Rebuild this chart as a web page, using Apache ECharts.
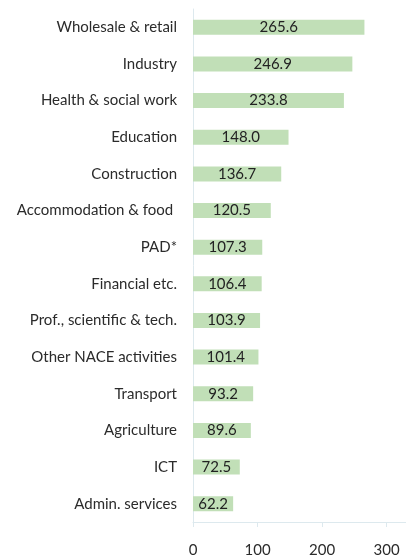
<!DOCTYPE html>
<html>
<head>
<meta charset="utf-8">
<script src="https://cdn.jsdelivr.net/npm/echarts@6/dist/echarts.min.js"></script>
<style>
  html, body { margin: 0; padding: 0; background: #ffffff; }
  #chart { width: 406px; height: 560px; }
</style>
</head>
<body>
<div id="chart"></div>
<script>
// Sectors, listed bottom to top as the category axis draws them
const sectors = [
  'Admin. services',
  'ICT',
  'Agriculture',
  'Transport',
  'Other NACE activities',
  'Prof., scientific & tech.',
  'Financial etc.',
  'PAD*',
  'Accommodation & food ',
  'Construction',
  'Education',
  'Health & social work',
  'Industry',
  'Wholesale & retail'
];
const values = [62.2, 72.5, 89.6, 93.2, 101.4, 103.9, 106.4, 107.3, 120.5, 136.7, 148.0, 233.8, 246.9, 265.6];
const xTicks = [0, 100, 200, 300];

const FONT = 'Lato, "Open Sans", sans-serif';
const chart = echarts.init(document.getElementById('chart'), null, { renderer: 'canvas' });

chart.setOption({
  animation: false,
  backgroundColor: '#ffffff',
  grid: { left: 193, right: 0, top: 9, bottom: 38, containLabel: false },
  xAxis: {
    type: 'value',
    min: xTicks[0],
    max: 330,
    interval: xTicks[1] - xTicks[0],
    splitLine: { show: false },
    axisLine: { show: true, lineStyle: { color: '#dde9ee', width: 1 } },
    axisTick: { show: true, length: 5, lineStyle: { color: '#dde9ee' } },
    axisLabel: {
      showMaxLabel: false,
      margin: 21,
      color: '#2b2b2b',
      fontSize: 15,
      fontFamily: FONT,
      formatter: v => (xTicks.indexOf(v) >= 0 ? String(v) : '')
    }
  },
  yAxis: {
    type: 'category',
    data: sectors,
    axisLine: { show: true, lineStyle: { color: '#dde9ee', width: 1 } },
    axisTick: { show: false },
    splitLine: { show: false },
    axisLabel: {
      margin: 16,
      color: '#2b2b2b',
      fontSize: 15,
      fontFamily: FONT
    }
  },
  series: [{
    type: 'bar',
    data: values,
    barWidth: 15,
    itemStyle: { color: '#c1dfb7' },
    label: {
      show: true,
      position: 'inside',
      color: '#222222',
      fontSize: 15,
      fontFamily: FONT,
      formatter: p => p.value.toFixed(1)
    }
  }]
});
</script>
</body>
</html>
